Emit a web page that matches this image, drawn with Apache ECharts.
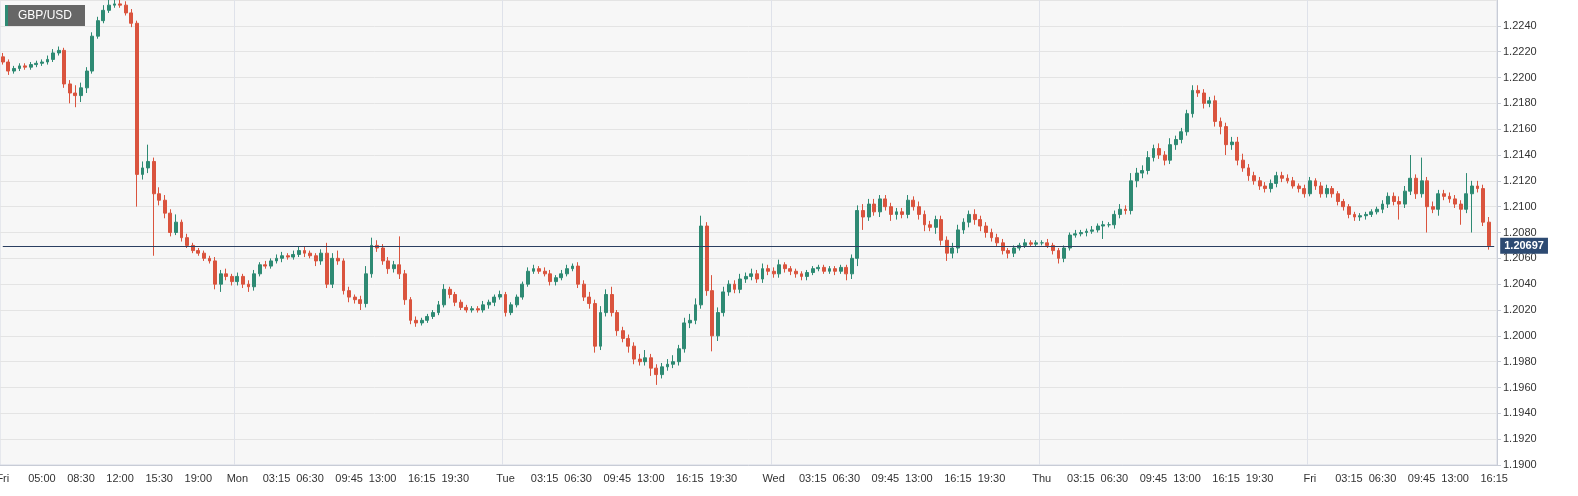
<!DOCTYPE html>
<html><head><meta charset="utf-8">
<script src="https://cdn.jsdelivr.net/npm/echarts@6/dist/echarts.min.js"></script>
<style>html,body{margin:0;padding:0;background:#fff}#c{width:1578px;height:496px}</style>
</head><body><div id="c"></div>
<script>
// 30-minute candles: closes by day (open = previous close)
const fri1Close=[1.2212,1.2205,1.2207,1.2209,1.2208,1.2210,1.2211,1.2212,1.2214,1.2219,1.2221,1.2195,1.2188,1.2186,1.2192,1.2205,1.2232,1.2244,1.2252,1.2256,1.2257,1.2256,1.2250,1.2242,1.2125,1.2130,1.2135,1.2110,1.2105,1.2095,1.2080,1.2088,1.2076,1.2070,1.2066,1.2064,1.2060,1.2058,1.2040,1.2048,1.2046,1.2042];
const monClose=[1.2046,1.2040,1.2038,1.2048,1.2055,1.2054,1.2058,1.2060,1.2062,1.2061,1.2063,1.2066,1.2064,1.2062,1.2058,1.2064,1.2040,1.2060,1.2058,1.2035,1.2030,1.2028,1.2025,1.2048,1.2070,1.2068,1.2058,1.2052,1.2055,1.2048,1.2028,1.2012,1.2010,1.2012,1.2015,1.2018,1.2024,1.2036,1.2032,1.2026,1.2022,1.2020,1.2021,1.2020,1.2024,1.2026,1.2030,1.2032];
const tueClose=[1.2018,1.2024,1.2030,1.2040,1.2050,1.2052,1.2050,1.2048,1.2042,1.2045,1.2048,1.2052,1.2054,1.2040,1.2030,1.2025,1.1992,1.2018,1.2032,1.2018,1.2004,1.1998,1.1992,1.1982,1.1980,1.1983,1.1975,1.1970,1.1976,1.1978,1.1980,1.1990,1.2010,1.2012,1.2024,1.2085,1.2035,1.2000,1.2018,1.2034,1.2040,1.2036,1.2044,1.2046,1.2048,1.2044,1.2052,1.2050];
const wedClose=[1.2048,1.2055,1.2052,1.2050,1.2048,1.2046,1.2049,1.2052,1.2053,1.2050,1.2052,1.2050,1.2053,1.2048,1.2060,1.2097,1.2092,1.2102,1.2096,1.2106,1.2100,1.2094,1.2096,1.2094,1.2105,1.2100,1.2094,1.2086,1.2084,1.2090,1.2074,1.2064,1.2068,1.2082,1.2088,1.2094,1.2090,1.2085,1.2080,1.2076,1.2072,1.2066,1.2064,1.2068,1.2070,1.2072,1.2071,1.2072];
const thuClose=[1.2072,1.2070,1.2066,1.2060,1.2068,1.2078,1.2079,1.2080,1.2081,1.2082,1.2085,1.2086,1.2086,1.2094,1.2098,1.2097,1.2120,1.2126,1.2128,1.2138,1.2145,1.2140,1.2136,1.2148,1.2152,1.2158,1.2172,1.2190,1.2188,1.2180,1.2182,1.2166,1.2162,1.2148,1.2150,1.2136,1.2130,1.2124,1.2120,1.2116,1.2114,1.2118,1.2124,1.2122,1.2120,1.2116,1.2114,1.2110];
const fri2Close=[1.2120,1.2116,1.2110,1.2114,1.2110,1.2104,1.2100,1.2094,1.2092,1.2093,1.2094,1.2096,1.2098,1.2102,1.2108,1.2104,1.2102,1.2112,1.2122,1.2110,1.2120,1.2100,1.2098,1.2110,1.2108,1.2106,1.2102,1.2098,1.2110,1.2116,1.2114,1.2088,1.20697];
// wick lengths in pips above max(open,close) / below min(open,close)
const fri1Up=[3,2,2,2,2,2,2,2,3,3,3,2,3,6,4,3,3,3,4,4,3,3,3,3,2,5,13,3,5,4,3,6,2,3,2,2,2,2,3,3,4,2];
const fri1Dn=[2,3,2,2,2,2,2,2,2,2,2,3,8,9,5,4,2,2,2,2,2,2,2,3,25,4,4,48,4,4,3,2,3,2,2,2,2,2,4,6,3,3];
const monUp=[3,2,3,3,2,3,2,3,3,2,3,3,3,2,2,3,8,4,6,2,3,2,3,6,6,4,3,3,3,22,3,2,3,2,2,2,3,4,2,2,2,2,2,2,3,2,2,3];
const monDn=[3,3,4,3,2,2,2,2,3,2,2,2,3,2,4,3,3,3,3,3,4,3,5,3,3,3,3,4,3,4,4,3,3,2,2,2,2,2,3,3,2,2,2,2,2,3,3,2];
const tueUp=[2,2,2,2,3,3,2,3,3,2,3,3,2,3,3,4,3,5,4,6,2,3,3,3,4,6,3,3,3,4,5,3,4,5,5,8,3,12,4,4,3,3,4,3,4,3,4,3];
const tueDn=[3,2,2,2,2,2,2,2,3,3,2,2,2,3,3,4,5,3,3,3,4,3,5,4,3,3,6,8,3,3,3,3,3,4,3,3,4,12,4,3,3,3,3,3,3,3,3,3];
const wedUp=[3,4,2,2,2,2,2,2,2,2,2,2,2,2,3,4,5,4,4,3,3,3,3,3,4,3,4,3,3,3,3,3,4,4,3,3,4,3,3,3,3,3,2,2,2,3,2,2];
const wedDn=[3,3,3,3,3,3,3,2,2,2,2,3,2,5,4,6,10,3,3,4,3,5,4,3,3,3,4,5,3,5,4,6,4,4,3,4,4,4,4,3,3,3,4,3,2,2,2,2];
const thuUp=[2,3,2,2,2,2,3,2,2,3,2,3,2,3,4,3,6,4,4,5,3,4,3,5,3,3,3,4,4,3,3,4,3,3,4,4,5,3,3,3,3,3,3,3,3,3,2,3];
const thuDn=[2,2,3,4,3,2,2,2,3,2,2,10,2,3,3,3,3,5,4,3,3,3,4,3,4,3,3,3,3,4,3,4,6,8,4,4,3,4,3,3,3,3,3,3,2,2,3,3];
const fri2Up=[3,2,3,3,2,2,2,2,2,2,2,2,2,3,3,3,4,4,18,3,18,3,4,3,3,3,3,3,16,4,4,3,4];
const fri2Dn=[2,3,3,3,3,3,3,3,3,3,3,2,2,3,3,3,12,3,3,4,3,20,3,5,3,3,3,12,3,30,3,3,3];
const firstOpen=1.2216;
const lastPrice=1.20697;
// x-axis tick labels: [slot index, text]
const tickLabels=[[0,'Fri'],[7,'05:00'],[14,'08:30'],[21,'12:00'],[28,'15:30'],[35,'19:00'],
[42,'Mon'],[49,'03:15'],[55,'06:30'],[62,'09:45'],[68,'13:00'],[75,'16:15'],[81,'19:30'],
[90,'Tue'],[97,'03:15'],[103,'06:30'],[110,'09:45'],[116,'13:00'],[123,'16:15'],[129,'19:30'],
[138,'Wed'],[145,'03:15'],[151,'06:30'],[158,'09:45'],[164,'13:00'],[171,'16:15'],[177,'19:30'],
[186,'Thu'],[193,'03:15'],[199,'06:30'],[206,'09:45'],[212,'13:00'],[219,'16:15'],[225,'19:30'],
[234,'Fri'],[241,'03:15'],[247,'06:30'],[254,'09:45'],[260,'13:00'],[267,'16:15']];
const dayStarts=[42,90,138,186,234];

const closes=[].concat(fri1Close,monClose,tueClose,wedClose,thuClose,fri2Close);
const ups=[].concat(fri1Up.slice(0,42),monUp.slice(0,48),tueUp.slice(0,48),wedUp.slice(0,48),thuUp.slice(0,48),fri2Up.slice(0,33));
const dns=[].concat(fri1Dn.slice(0,42),monDn.slice(0,48),tueDn.slice(0,48),wedDn.slice(0,48),thuDn.slice(0,48),fri2Dn.slice(0,33));
const cats=[],data=[];
closes.forEach((c,i)=>{
  const o=i===0?firstOpen:closes[i-1];
  const u=(ups[i]??2)*0.0001,d=(dns[i]??2)*0.0001;
  data.push([o,c,Math.min(o,c)-d,Math.max(o,c)+u]);
  cats.push(String(i));
});
const labelMap={};tickLabels.forEach(([i,t])=>labelMap[i]=t);
cats.push('end');data.push('-');

const chart=echarts.init(document.getElementById('c'));
chart.setOption({
  animation:false,
  grid:{left:0,right:81,top:0,bottom:31,containLabel:false,outerBoundsMode:'none',show:true,backgroundColor:'#f7f7f7',borderColor:'#d5d9e4',borderWidth:1},
  xAxis:{type:'category',data:cats,boundaryGap:true,
    axisLine:{lineStyle:{color:'#c8ccd6'}},
    axisTick:{show:false},
    axisLabel:{interval:(i)=>labelMap[i]!==undefined,formatter:(v,i)=>labelMap[i]||'',color:'#333',fontSize:11,fontFamily:'Arial, Liberation Sans, sans-serif',margin:8,hideOverlap:false},
    splitLine:{show:true,interval:(i)=>dayStarts.includes(i),lineStyle:{color:'#dfe2ea',width:1}}},
  yAxis:{type:'value',position:'right',min:1.19,max:1.226,interval:0.002,
    axisLine:{show:true,lineStyle:{color:'#c8ccd6'}},
    axisTick:{show:true,length:4,lineStyle:{color:'#c8ccd6'}},
    axisLabel:{formatter:v=>v.toFixed(4),color:'#333',fontSize:11,fontFamily:'Arial, Liberation Sans, sans-serif',margin:6,showMaxLabel:false},
    splitLine:{lineStyle:{color:'#e4e4e4'}}},
  series:[{type:'candlestick',data:data,barMaxWidth:3.5,barWidth:'60%',
    itemStyle:{color:'#2e8a73',color0:'#da543e',borderColor:'#2e8a73',borderColor0:'#da543e',borderWidth:1},
    markLine:{silent:true,symbol:'none',
      data:[[{coord:['0',lastPrice]},{coord:['end',lastPrice]}]],
      lineStyle:{color:'#2b3f61',type:'solid',width:1.2},
      label:{position:'end',formatter:'1.20697',color:'#fff',backgroundColor:'#2d4a72',padding:[3,4,2,4],
        fontSize:11,fontWeight:'bold',fontFamily:'Arial, Liberation Sans, sans-serif',distance:6}}}],
  graphic:[
    {type:'rect',left:5,top:5,shape:{width:3,height:22},style:{fill:'#2e8a73'}},
    {type:'rect',left:8,top:5,shape:{width:77,height:22},style:{fill:'#666'}},
    {type:'text',left:18,top:10,style:{text:'GBP/USD',fill:'#fff',font:'12px Arial, Liberation Sans, sans-serif'}}
  ]
});
</script></body></html>
